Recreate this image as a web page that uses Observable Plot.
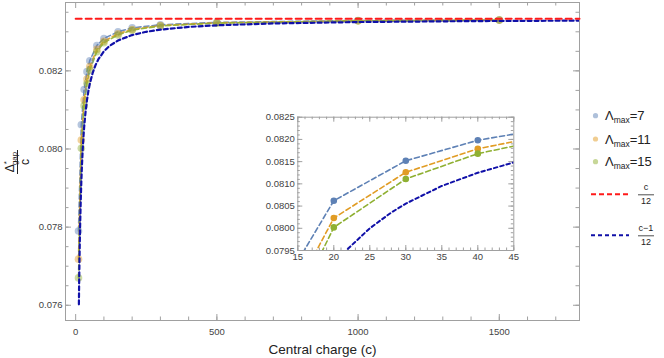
<!DOCTYPE html>
<html><head><meta charset="utf-8">
<script src="https://cdn.jsdelivr.net/npm/d3@7"></script>
<script src="https://cdn.jsdelivr.net/npm/@observablehq/plot@0.6"></script>
<style>
body{margin:0;background:#fff;font-family:"Liberation Sans",Arial,sans-serif;}
#wrap{position:relative;width:664px;height:358px;overflow:hidden;}
#wrap > svg{position:absolute;}
</style></head><body><div id="wrap"></div>
<script>
// ---- data ----
const cValues = [10, 20, 30, 40, 50, 75, 100, 150, 200, 300, 500, 1000, 1500];
const lam7  = [0.07790, 0.08062, 0.08152, 0.08198, 0.08226, 0.08265, 0.08283, 0.08300, 0.08310, 0.08318, 0.08324, 0.08329, 0.08330];
const lam11 = [0.07718, 0.08023, 0.08126, 0.08179, 0.08211, 0.08255, 0.08276, 0.08295, 0.08306, 0.08316, 0.08323, 0.08328, 0.08330];
const lam15 = [0.07670, 0.08002, 0.08111, 0.08168, 0.08202, 0.08249, 0.08272, 0.08292, 0.08304, 0.08315, 0.08322, 0.08328, 0.08330];
const seriesNames = ["7", "11", "15"];
const seriesColors = ["#5e81b5", "#e19c24", "#8fb032"];

// (c-1)/12 divided by c
const theoryC = [11.4, 12, 13, 14, 15, 16, 18, 20, 22, 25, 28, 30, 35, 40, 45, 50, 60, 70, 80, 100, 120, 150, 200, 250, 300, 400, 500, 700, 1000, 1400, 1784];
const theoryY = [0.0760234, 0.0763889, 0.0769231, 0.0773810, 0.0777778, 0.0781250, 0.0787037, 0.0791667, 0.0795455, 0.0800000, 0.0803571, 0.0805556, 0.0809524, 0.0812500, 0.0814815, 0.0816667, 0.0819444, 0.0821429, 0.0822917, 0.0825000, 0.0826389, 0.0827778, 0.0829167, 0.0830000, 0.0830556, 0.0831250, 0.0831667, 0.0832143, 0.0832500, 0.0832738, 0.0832866];
// c/12 divided by c
const classicalC = [0, 1784];
const classicalY = [0.0833333, 0.0833333];

const xTicksMain = [0, 500, 1000, 1500];
const xTickLabelsMain = ["0", "500", "1000", "1500"];
const yTicksMain = [0.076, 0.078, 0.080, 0.082];
const yTickLabelsMain = ["0.076", "0.078", "0.080", "0.082"];
const insetXTicks = [15, 20, 25, 30, 35, 40, 45];
const insetXTickLabels = ["15", "20", "25", "30", "35", "40", "45"];
const insetYTicks = [0.0795, 0.0800, 0.0805, 0.0810, 0.0815, 0.0820, 0.0825];
const insetYTickLabels = ["0.0795", "0.0800", "0.0805", "0.0810", "0.0815", "0.0820", "0.0825"];
const xLabel = "Central charge (c)";

// ---- build ----
const seriesVals = [lam7, lam11, lam15];
const pts = seriesVals.map((arr, k) => cValues.map((c, i) => ({c, v: arr[i], s: seriesNames[k]})));
const theory = theoryC.map((c, i) => ({c, v: theoryY[i]}));
const classical = classicalC.map((c, i) => ({c, v: classicalY[i]}));

const FONT = "Liberation Sans, Arial, sans-serif";
const frameColor = "#a0a0a0";
const labelColor = "#444";
const darkBlue = "#1010a8";

function tickMarks(xMajor, xMinor, yMajor, yMinor, fw, fh, maj, mn) {
  const st = {stroke: frameColor, strokeWidth: 1};
  return [
    Plot.tickX(xMinor, {x: d => d, insetTop: fh - mn, ...st}),
    Plot.tickX(xMajor, {x: d => d, insetTop: fh - maj, ...st}),
    Plot.tickX(xMinor, {x: d => d, insetBottom: fh - mn, ...st}),
    Plot.tickX(xMajor, {x: d => d, insetBottom: fh - maj, ...st}),
    Plot.tickY(yMinor, {y: d => d, insetRight: fw - mn, ...st}),
    Plot.tickY(yMajor, {y: d => d, insetRight: fw - maj, ...st}),
    Plot.tickY(yMinor, {y: d => d, insetLeft: fw - mn, ...st}),
    Plot.tickY(yMajor, {y: d => d, insetLeft: fw - maj, ...st}),
    Plot.frame({stroke: frameColor, strokeWidth: 1})
  ];
}

// main chart
const W = 664, H = 358, mL = 65, mR = 85, mT = 2, mB = 38;
const fw = W - mL - mR, fh = H - mT - mB;
const xMinorMain = d3.range(100, 1800, 100);
const yMinorMain = d3.range(0, 16).map(i => +(0.0760 + i * 0.0005).toFixed(4));

const mainMarks = [
  ...tickMarks(xTicksMain, xMinorMain, yTicksMain, yMinorMain, fw, fh, 6, 3.5),
  Plot.text(xTicksMain, {x: d => d, text: (d, i) => xTickLabelsMain[i], frameAnchor: "bottom", dy: 8, lineAnchor: "top", fontSize: 9.5, fill: labelColor}),
  Plot.text(yTicksMain, {y: d => d, text: (d, i) => yTickLabelsMain[i], frameAnchor: "left", dx: -3, textAnchor: "end", fontSize: 9.5, fill: labelColor}),
  Plot.text([xLabel], {frameAnchor: "bottom", dy: 29, lineAnchor: "middle", fontSize: 13.5, fill: "#222"})
];
pts.forEach((data, k) => {
  mainMarks.push(Plot.line(data, {x: "c", y: "v", stroke: seriesColors[k], strokeWidth: 1.6, strokeDasharray: "5,3", strokeOpacity: 0.9}));
});
pts.forEach((data, k) => {
  mainMarks.push(Plot.dot(data, {x: "c", y: "v", r: 3.8, fill: seriesColors[k], fillOpacity: 0.45, stroke: "none"}));
});
mainMarks.push(Plot.line(theory, {x: "c", y: "v", stroke: darkBlue, strokeWidth: 2.2, strokeDasharray: "4,3", clip: true}));
mainMarks.push(Plot.line(classical, {x: "c", y: "v", stroke: "#ff1a1a", strokeWidth: 2, strokeDasharray: "6,4"}));

const mainPlot = Plot.plot({
  width: W, height: H, marginLeft: mL, marginRight: mR, marginTop: mT, marginBottom: mB,
  x: {domain: [-36, 1784], axis: null},
  y: {domain: [0.07561, 0.08375], axis: null},
  style: {fontFamily: FONT, background: "transparent"},
  marks: mainMarks
});

// inset
const iW = 270, iH = 160, iL = 47.3, iT = 6.7, iR = 6.7, iB = 20;
const ifw = iW - iL - iR, ifh = iH - iT - iB;
const insetXMinor = d3.range(15, 46, 1);
const insetYMinor = d3.range(0, 31).map(i => +(0.0795 + i * 0.0001).toFixed(4));
const insetMarks = [
  ...tickMarks(insetXTicks, insetXMinor, insetYTicks, insetYMinor, ifw, ifh, 5, 2.5),
  Plot.text(insetXTicks, {x: d => d, text: (d, i) => insetXTickLabels[i], frameAnchor: "bottom", dy: 3, lineAnchor: "top", fontSize: 9.5, fill: labelColor}),
  Plot.text(insetYTicks, {y: d => d, text: (d, i) => insetYTickLabels[i], frameAnchor: "left", dx: -3, textAnchor: "end", fontSize: 9.5, fill: labelColor})
];
pts.forEach((data, k) => {
  insetMarks.push(Plot.line(data, {x: "c", y: "v", stroke: seriesColors[k], strokeWidth: 1.6, strokeDasharray: "5,3", clip: true}));
});
insetMarks.push(Plot.line(theory, {x: "c", y: "v", stroke: darkBlue, strokeWidth: 2, strokeDasharray: "3.5,3", clip: true}));
pts.forEach((data, k) => {
  insetMarks.push(Plot.dot(data, {x: "c", y: "v", r: 3.3, fill: seriesColors[k], stroke: "none", clip: true}));
});
const insetPlot = Plot.plot({
  width: iW, height: iH, marginLeft: iL, marginRight: iR, marginTop: iT, marginBottom: iB,
  x: {domain: [15, 45], axis: null},
  y: {domain: [0.0795, 0.0825], axis: null},
  style: {fontFamily: FONT, background: "white"},
  marks: insetMarks
});

const wrap = document.getElementById("wrap");
mainPlot.style.left = "0px"; mainPlot.style.top = "0px";
insetPlot.style.left = "250px"; insetPlot.style.top = "110px";
wrap.appendChild(mainPlot);
wrap.appendChild(insetPlot);

// overlay: y label and legend
const ov = d3.select(wrap).append("svg").attr("width", W).attr("height", H)
  .style("left", "0px").style("top", "0px").style("font-family", FONT);

const yl = ov.append("g").attr("transform", "translate(17.5,162) rotate(-90)");
const num = yl.append("text").attr("x", 0).attr("y", -4).attr("text-anchor", "middle").attr("fill", "#222");
num.append("tspan").attr("font-size", 12).text("Δ");
num.append("tspan").attr("font-size", 8).attr("dy", -5).text("*");
num.append("tspan").attr("font-size", 8).attr("dx", -4).attr("dy", 8).text("gap");
yl.append("line").attr("x1", -12).attr("x2", 12).attr("y1", 0).attr("y2", 0).attr("stroke", "#222").attr("stroke-width", 1);
yl.append("text").attr("x", 0).attr("y", 11).attr("text-anchor", "middle").attr("font-size", 12).attr("fill", "#222").text("c");

const legY = [115.7, 139, 161.7];
seriesNames.forEach((n, k) => {
  ov.append("circle").attr("cx", 595.5).attr("cy", legY[k]).attr("r", 2.6).attr("fill", seriesColors[k]).attr("fill-opacity", 0.5);
  const t = ov.append("text").attr("x", 605).attr("y", legY[k] + 4.5).attr("fill", "#222");
  t.append("tspan").attr("font-size", 13).text("Λ");
  t.append("tspan").attr("font-size", 8.5).attr("dy", 3).text("max");
  t.append("tspan").attr("font-size", 13).attr("dy", -3).text("=" + n);
});
function legLine(y, color, dash, numText) {
  ov.append("line").attr("x1", 591).attr("x2", 629).attr("y1", y).attr("y2", y)
    .attr("stroke", color).attr("stroke-width", 2).attr("stroke-dasharray", dash);
  ov.append("text").attr("x", 646).attr("y", y - 4).attr("text-anchor", "middle").attr("font-size", 9).attr("fill", "#222").text(numText);
  ov.append("line").attr("x1", 638).attr("x2", 654).attr("y1", y + 0.5).attr("y2", y + 0.5).attr("stroke", "#222").attr("stroke-width", 0.8);
  ov.append("text").attr("x", 646).attr("y", y + 10).attr("text-anchor", "middle").attr("font-size", 9).attr("fill", "#222").text("12");
}
legLine(194.3, "#ff1a1a", "5,3", "c");
legLine(235.3, darkBlue, "4,3", "c−1");
</script></body></html>
